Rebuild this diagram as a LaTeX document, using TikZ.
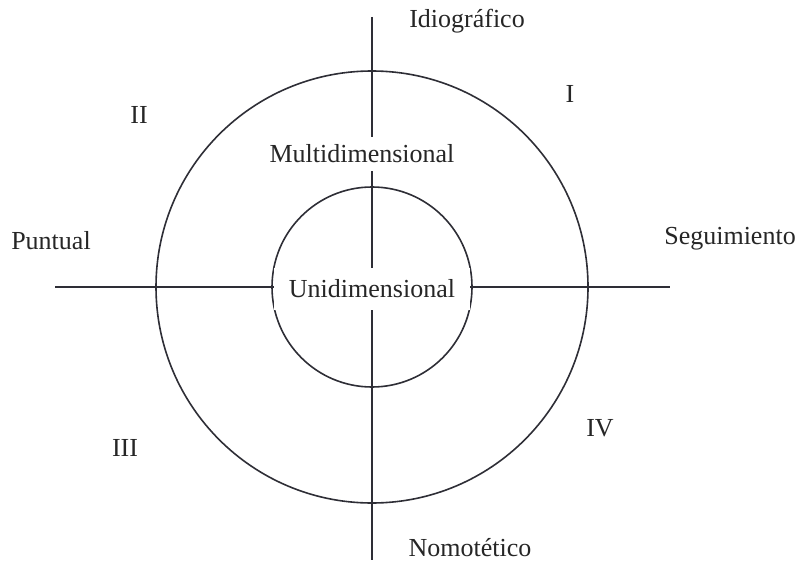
\documentclass[tikz,border=0pt]{standalone}
\usepackage{fontspec}
\setmainfont{Liberation Serif}
\usepackage{tikz}
\usetikzlibrary{positioning}

\definecolor{inkline}{HTML}{2E2E36}
\definecolor{inktext}{HTML}{262626}

\tikzset{
  axisline/.style={draw=inkline, line width=1.5pt},
  ringline/.style={draw=inkline, line width=1.6pt},
  lbl/.style={text=inktext, font=\fontsize{26}{30}\selectfont},
  coverlbl/.style={lbl, fill=white, inner xsep=15pt, inner ysep=12pt}
}

\begin{document}
\begin{tikzpicture}[x=1pt, y=1pt]

\useasboundingbox (0,0) rectangle (799,563);

% centre of both circles
\coordinate (c) at (372,276);

% ---- Axes ----
\coordinate (ytop) at (372,546);
\coordinate (ybot) at (372,3);
\coordinate (xleft) at (55,276);
\coordinate (xright) at (670,276);
\draw[axisline] (ytop) -- (ybot);
\draw[axisline] (xleft) -- (xright);

% ---- Circles ----
\draw[ringline] (c) circle (216);
\draw[ringline] (c) circle (100);

% Axis labels
\node[lbl] (idio) at (467,542) {Idiográfico};
\node[lbl] (nomo) at (470,15) {Nomotético};
\node[lbl] (punt) at (51,322) {Puntual};
\node[lbl] (segu) at (730,324) {Seguimiento};

% Quadrant labels
\node[lbl] (qI) at (570,469) {I};
\node[lbl] (qII) at (139,448) {II};
\node[lbl] (qIII) at (125,115) {III};
\node[lbl] (qIV) at (600,135) {IV};

% ---- Ring labels ----
\node[lbl, fill=white, inner xsep=3pt, inner ysep=8pt] (multi) at (362,409) {Multidimensional};
\node[coverlbl] (uni) at (372,274) {Unidimensional};

\end{tikzpicture}
\end{document}
